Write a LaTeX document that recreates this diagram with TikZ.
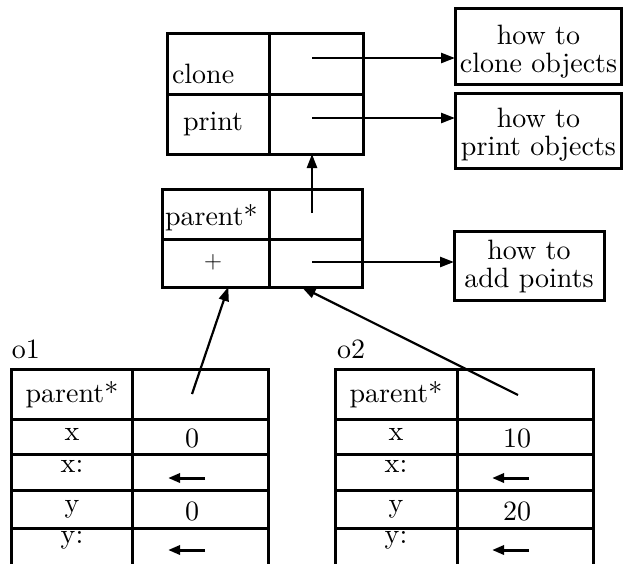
\documentclass[tikz,border=0pt]{standalone}
\usepackage{fontspec}
\setmainfont{lmroman10-regular.otf}
\usetikzlibrary{arrows.meta}
\tikzset{
 cell/.style={draw, line width=3pt, rectangle, inner sep=0pt, outer sep=0pt},
 opencell/.style={rectangle, inner sep=0pt, outer sep=0pt},
 txt/.style={inner sep=0pt, outer sep=0pt, anchor=base, font=\fontsize{28}{28}\selectfont},
 ptr/.style={line width=2.5pt, -{Triangle[length=14pt,width=10pt]}},
 back/.style={line width=3pt, -{Triangle[length=12pt,width=9pt]}},
 tblrule/.style={line width=3pt},
}
\begin{document}
\begin{tikzpicture}[x=1pt,y=-1pt]
\useasboundingbox (0,0) rectangle (624,563);

% prototype object
\node[cell, minimum width=102pt, minimum height=61pt] (p-clone) at (218,63.5) {};
\node[cell, minimum width=94pt, minimum height=61pt] (p-clonev) at (316,63.5) {};
\node[cell, minimum width=102pt, minimum height=60pt] (p-print) at (218,124) {};
\node[cell, minimum width=94pt, minimum height=60pt] (p-printv) at (316,124) {};
\node[txt, anchor=base west] (t-clone) at (172,83) {clone};
\node[txt] (t-print) at (213,130) {print};

% point prototype
\node[cell, minimum width=107pt, minimum height=50pt] (m-parent) at (215.5,214) {};
\node[cell, minimum width=93pt, minimum height=50pt] (m-parentv) at (315.5,214) {};
\node[cell, minimum width=107pt, minimum height=48pt] (m-plus) at (215.5,263) {};
\node[cell, minimum width=93pt, minimum height=48pt] (m-plusv) at (315.5,263) {};
\node[txt, anchor=base west] (t-mparent) at (165,225) {parent*};
\node[txt, anchor=center] (t-plus) at (213,262) {$+$};

% method boxes
\node[cell, minimum width=166.5pt, minimum height=76pt] (h-clone) at (538.25,46) {};
\node[txt, anchor=center, align=center] (t-hclone) at (538.5,51.8) {how to\\clone objects};
\node[cell, minimum width=166.5pt, minimum height=75pt] (h-print) at (538.25,130.5) {};
\node[txt, anchor=center, align=center] (t-hprint) at (538.5,134.3) {how to\\print objects};
\node[cell, minimum width=150pt, minimum height=69pt] (h-add) at (529,265.5) {};
\node[txt, anchor=center, align=center] (t-hadd) at (529,266.3) {how to\\add points};

% arrows to method boxes
\coordinate (s-clone) at (312,58);
\coordinate (s-print) at (312,118);
\coordinate (s-add) at (312,262);
\coordinate (s-up) at (312,213);
\draw[ptr] (s-clone) -- (s-clone -| h-clone.west);
\draw[ptr] (s-print) -- (s-print -| h-print.west);
\draw[ptr] (s-add) -- (s-add -| h-add.west);
\draw[ptr] (s-up) -- (s-up |- p-printv.south);

% object o1
\node[txt, anchor=base west] (l-o1) at (12,358) {o1};
\node[cell, minimum width=121pt, minimum height=50pt] (o1-p) at (71.5,394) {};
\node[cell, minimum width=136pt, minimum height=50pt] (o1-pv) at (200,394) {};
\node[cell, minimum width=121pt, minimum height=35pt] (o1-x) at (71.5,436.5) {};
\node[cell, minimum width=136pt, minimum height=35pt] (o1-xv) at (200,436.5) {};
\node[cell, minimum width=121pt, minimum height=36pt] (o1-xc) at (71.5,472) {};
\node[cell, minimum width=136pt, minimum height=36pt] (o1-xcv) at (200,472) {};
\node[cell, minimum width=121pt, minimum height=38pt] (o1-y) at (71.5,509) {};
\node[cell, minimum width=136pt, minimum height=38pt] (o1-yv) at (200,509) {};
\node[opencell, minimum width=121pt, minimum height=40pt] (o1-yc) at (71.5,548) {};
\node[opencell, minimum width=136pt, minimum height=40pt] (o1-ycv) at (200,548) {};
\draw[tblrule] (o1-yc.north west) -- (o1-yc.south west);
\draw[tblrule] (o1-yc.north east) -- (o1-yc.south east);
\draw[tblrule] (o1-ycv.north east) -- (o1-ycv.south east);
\node[txt] (t-o1p) at (72,402) {parent*};
\node[txt] (t-o1x) at (72,440) {x};
\node[txt] (t-o1xv) at (192,447) {0};
\node[txt] (t-o1xc) at (72,472) {x:};
\node[txt] (t-o1y) at (72,512) {y};
\node[txt] (t-o1yv) at (192,520) {0};
\node[txt] (t-o1yc) at (72,543) {y:};
\coordinate (o1-xa) at (205,478);
\coordinate (o1-xb) at (168,478);
\coordinate (o1-ya) at (205,550);
\coordinate (o1-yb) at (168,550);
\draw[back] (o1-xa) -- (o1-xb);
\draw[back] (o1-ya) -- (o1-yb);

% object o2
\node[txt, anchor=base west] (l-o2) at (337,358) {o2};
\node[cell, minimum width=122pt, minimum height=50pt] (o2-p) at (396,394) {};
\node[cell, minimum width=136pt, minimum height=50pt] (o2-pv) at (525,394) {};
\node[cell, minimum width=122pt, minimum height=35pt] (o2-x) at (396,436.5) {};
\node[cell, minimum width=136pt, minimum height=35pt] (o2-xv) at (525,436.5) {};
\node[cell, minimum width=122pt, minimum height=36pt] (o2-xc) at (396,472) {};
\node[cell, minimum width=136pt, minimum height=36pt] (o2-xcv) at (525,472) {};
\node[cell, minimum width=122pt, minimum height=38pt] (o2-y) at (396,509) {};
\node[cell, minimum width=136pt, minimum height=38pt] (o2-yv) at (525,509) {};
\node[opencell, minimum width=122pt, minimum height=40pt] (o2-yc) at (396,548) {};
\node[opencell, minimum width=136pt, minimum height=40pt] (o2-ycv) at (525,548) {};
\draw[tblrule] (o2-yc.north west) -- (o2-yc.south west);
\draw[tblrule] (o2-yc.north east) -- (o2-yc.south east);
\draw[tblrule] (o2-ycv.north east) -- (o2-ycv.south east);
\node[txt] (t-o2p) at (396,402) {parent*};
\node[txt] (t-o2x) at (396,440) {x};
\node[txt] (t-o2xv) at (517,447) {10};
\node[txt] (t-o2xc) at (396,472) {x:};
\node[txt] (t-o2y) at (396,512) {y};
\node[txt] (t-o2yv) at (517,520) {20};
\node[txt] (t-o2yc) at (396,543) {y:};
\coordinate (o2-xa) at (529,478);
\coordinate (o2-xb) at (492,478);
\coordinate (o2-ya) at (529,550);
\coordinate (o2-yb) at (492,550);
\draw[back] (o2-xa) -- (o2-xb);
\draw[back] (o2-ya) -- (o2-yb);

% parent pointers
\coordinate (o1-ptr) at (192,394);
\coordinate (o2-ptr) at (518,395);
\draw[ptr, line width=2.2pt] (o1-ptr) -- (m-plus.-62.5);
\draw[ptr, line width=2.2pt] (o2-ptr) -- (m-plusv.-120.3);
\end{tikzpicture}
\end{document}
